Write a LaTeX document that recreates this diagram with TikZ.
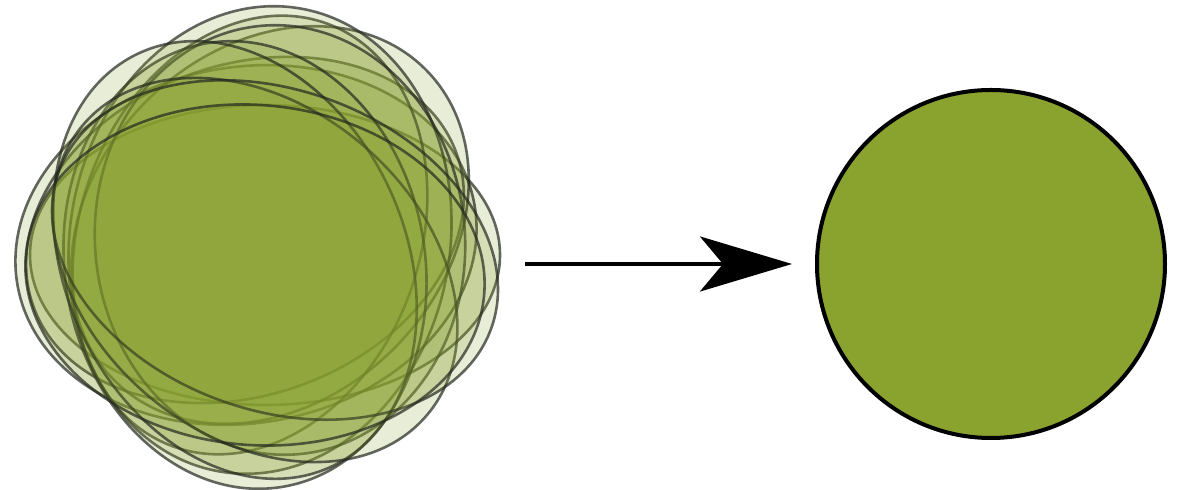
\documentclass[tikz,border=0pt]{standalone}
\usetikzlibrary{arrows.meta}
\definecolor{leaf}{RGB}{138,162,46}
\definecolor{rim}{RGB}{36,40,32}
\tikzset{
  layer/.style={fill=leaf, fill opacity=0.19, draw=rim, draw opacity=0.7, line width=1.3pt},
  solid disc/.style={circle, fill=leaf, draw=black, line width=2pt, minimum size=174pt, inner sep=0pt},
  flow/.style={draw=black, line width=2pt, -{Stealth[length=46pt, width=27.5pt, inset=11.5pt]}}
}
\begin{document}
\begin{tikzpicture}[x=0.5pt, y=-0.5pt]
  \path[use as bounding box, fill=white] (0,0) rectangle (1185,490);

  % stack of overlapping translucent ellipses
  \foreach \cx/\cy/\a/\b/\ang in {
      265/255/235/150/0,
      246/245/232/178/10,
      245/230/225/165/20,
      270/225/220/175/45,
      250/235/225/170/70,
      260/240/235/190/80,
      280/240/215/185/95,
      245/265/225/180/100,
      235/260/228/170/115,
      255/270/225/165/140,
      275/250/230/160/160,
      255/275/230/170/175}
  {
    \draw[layer, rotate around={\ang:(\cx,\cy)}] (\cx,\cy) ellipse [x radius=\a, y radius=\b];
  }

  % invisible frame around the ellipse stack, used as the arrow source
  \node[minimum width=242.5pt, minimum height=0pt, inner sep=0pt] (stack) at (257.5,264) {};

  % merged result
  \node[solid disc] (merged) at (991,264) {};

  \draw[flow, shorten <=12.5pt, shorten >=11.5pt] (stack.east) -- (merged.west);
\end{tikzpicture}
\end{document}
